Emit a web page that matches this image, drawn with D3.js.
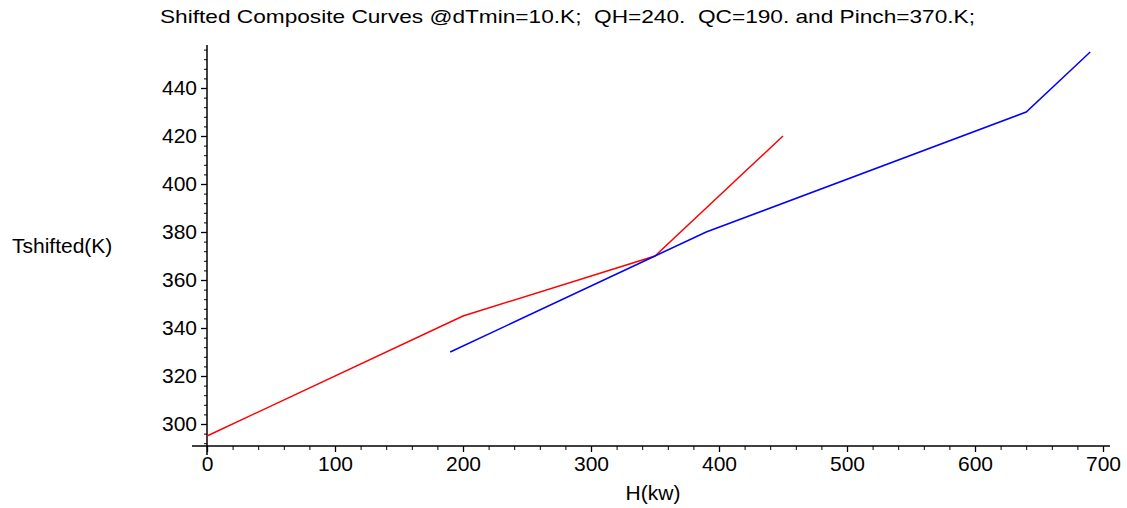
<!DOCTYPE html>
<html>
<head>
<meta charset="utf-8">
<script src="https://cdn.jsdelivr.net/npm/d3@7"></script>
<style>
  body { margin: 0; background: #fff; }
  text { font-family: "Liberation Sans", Arial, sans-serif; fill: #000; }
</style>
</head>
<body>
<script>
// hot composite (shifted)
var hotH = [0, 200, 350, 450];
var hotT = [295, 345, 370, 420];
// cold composite (shifted)
var coldH = [190, 350, 390, 640, 690];
var coldT = [330, 370, 380, 430, 455];

var xTicks = [0, 100, 200, 300, 400, 500, 600, 700];
var yTicks = [300, 320, 340, 360, 380, 400, 420, 440];
var titleText = "Shifted Composite Curves @dTmin=10.K;  QH=240.  QC=190. and Pinch=370.K;";

var width = 1127, height = 508;

var svg = d3.select('body')
    .append('svg')
    .attr('width', width)
    .attr('height', height);

var x = d3.scaleLinear().domain([0, 700]).range([207, 1103]);
var y = d3.scaleLinear().domain([300, 440]).range([424, 88]);

var axisY0 = 446; // where the H axis sits
var yTop = y.invert(45), yBot = y.invert(455);

// minor ticks
var xMinor = d3.range(0, 701, 20).filter(function(v) { return v % 100 !== 0; });
var yMinor = d3.range(292, 457, 4).filter(function(v) { return v % 20 !== 0; });

// x axis
svg.append("line")
    .attr("x1", 192).attr("x2", 1110)
    .attr("y1", axisY0).attr("y2", axisY0)
    .attr("stroke", "black").attr("stroke-width", 1.5);
svg.append("g")
    .attr("transform", "translate(0," + axisY0 + ")")
    .call(d3.axisBottom(x).tickValues(xTicks).tickSize(6).tickPadding(4).tickFormat(d3.format("d")))
    .call(function(g) { g.select(".domain").remove(); })
    .call(function(g) { g.selectAll("text").style("font-size", "21px").style("font-family", "Liberation Sans"); })
    .call(function(g) { g.selectAll("line").attr("stroke-width", 1.3); });
svg.append("g")
    .attr("transform", "translate(0," + axisY0 + ")")
    .call(d3.axisBottom(x).tickValues(xMinor).tickSize(4).tickFormat(""))
    .call(function(g) { g.select(".domain").remove(); });

// y axis
svg.append("line")
    .attr("x1", x(0)).attr("x2", x(0))
    .attr("y1", y(yTop)).attr("y2", y(yBot))
    .attr("stroke", "black").attr("stroke-width", 1.5);
svg.append("g")
    .attr("transform", "translate(" + x(0) + ",0)")
    .call(d3.axisLeft(y).tickValues(yTicks).tickSize(6).tickPadding(4).tickFormat(d3.format("d")))
    .call(function(g) { g.select(".domain").remove(); })
    .call(function(g) { g.selectAll("text").style("font-size", "21px").style("font-family", "Liberation Sans"); })
    .call(function(g) { g.selectAll("line").attr("stroke-width", 1.3); });
svg.append("g")
    .attr("transform", "translate(" + x(0) + ",0)")
    .call(d3.axisLeft(y).tickValues(yMinor).tickSize(3).tickFormat(""))
    .call(function(g) { g.select(".domain").remove(); });

// curves
var line = d3.line()
    .x(function(d) { return x(d[0]); })
    .y(function(d) { return y(d[1]); });

svg.append("path")
    .attr("d", line(d3.zip(hotH, hotT)))
    .attr("fill", "none")
    .attr("stroke", "#ff0000")
    .attr("stroke-width", 1.5);

svg.append("path")
    .attr("d", line(d3.zip(coldH, coldT)))
    .attr("fill", "none")
    .attr("stroke", "#0000ff")
    .attr("stroke-width", 1.5);

// labels
svg.append("text")
    .attr("x", 160)
    .attr("y", 23)
    .attr("textLength", 815)
    .attr("lengthAdjust", "spacingAndGlyphs")
    .style("font-size", "19px")
    .style("white-space", "pre")
    .text(titleText);

svg.append("text")
    .attr("x", 12)
    .attr("y", 253)
    .style("font-size", "21px")
    .text("Tshifted(K)");

svg.append("text")
    .attr("x", 653)
    .attr("y", 500)
    .attr("text-anchor", "middle")
    .style("font-size", "21px")
    .text("H(kw)");
</script>
</body>
</html>
